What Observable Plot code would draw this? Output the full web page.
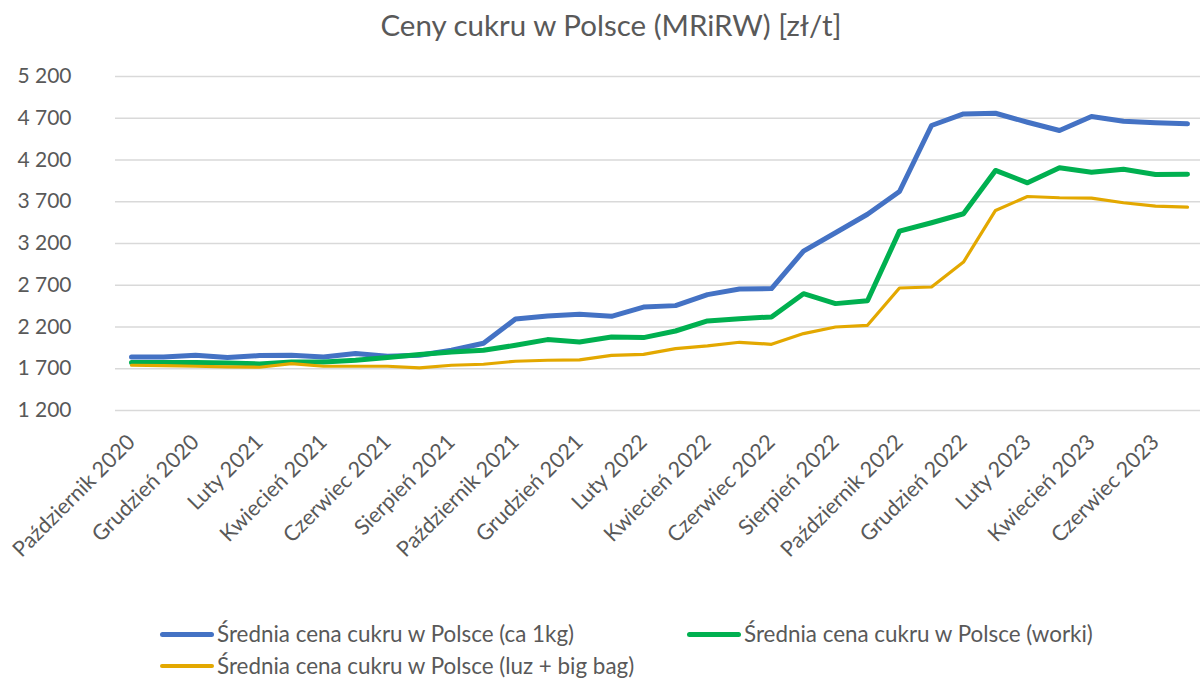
<!DOCTYPE html>
<html>
<head>
<meta charset="utf-8">
<script src="https://cdn.jsdelivr.net/npm/d3@7"></script>
<script src="https://cdn.jsdelivr.net/npm/@observablehq/plot@0.6"></script>
<style>
  html, body { margin: 0; padding: 0; background: #fff; }
  body { width: 1200px; height: 680px; position: relative; overflow: hidden; font-family: Lato, "Open Sans", sans-serif; color: #595959; }
  #title { position: absolute; left: 0; top: 8px; width: 1222px; text-align: center; font-size: 29.5px; line-height: 34px; }
  #chart { position: absolute; left: 0; top: 60px; }
  .leg { position: absolute; font-size: 22.4px; line-height: 26px; display: flex; align-items: center; white-space: nowrap; }
  .sw { display: inline-block; width: 54px; border-radius: 3px; margin-right: 3px; }
</style>
</head>
<body>
<div id="title">Ceny cukru w Polsce (MRiRW) [zł/t]</div>
<div id="chart"></div>
<div id="legend"></div>
<script>
const months = [
  "Październik 2020", "Listopad 2020", "Grudzień 2020", "Styczeń 2021", "Luty 2021", "Marzec 2021",
  "Kwiecień 2021", "Maj 2021", "Czerwiec 2021", "Lipiec 2021", "Sierpień 2021", "Wrzesień 2021",
  "Październik 2021", "Listopad 2021", "Grudzień 2021", "Styczeń 2022", "Luty 2022", "Marzec 2022",
  "Kwiecień 2022", "Maj 2022", "Czerwiec 2022", "Lipiec 2022", "Sierpień 2022", "Wrzesień 2022",
  "Październik 2022", "Listopad 2022", "Grudzień 2022", "Styczeń 2023", "Luty 2023", "Marzec 2023",
  "Kwiecień 2023", "Maj 2023", "Czerwiec 2023", "Lipiec 2023"
];
const seriesNames = [
  "Średnia cena cukru w Polsce (ca 1kg)",
  "Średnia cena cukru w Polsce (worki)",
  "Średnia cena cukru w Polsce (luz + big bag)"
];
const ca1kg = [1841, 1841, 1861, 1834, 1858, 1861, 1841, 1882, 1850, 1861, 1921, 2005,
  2295, 2331, 2352, 2328, 2439, 2456, 2588, 2655, 2660, 3109, 3329, 3550,
  3823, 4613, 4752, 4760, 4652, 4553, 4720, 4664, 4645, 4633];
const worki = [1774, 1774, 1774, 1770, 1757, 1781, 1781, 1802, 1834, 1870, 1901, 1921,
  1981, 2049, 2021, 2081, 2073, 2152, 2272, 2300, 2320, 2599, 2480, 2515,
  3348, 3449, 3556, 4075, 3927, 4107, 4054, 4090, 4027, 4030];
const luz = [1742, 1738, 1730, 1722, 1718, 1762, 1730, 1730, 1730, 1710, 1742, 1754,
  1790, 1802, 1806, 1861, 1873, 1941, 1973, 2017, 1993, 2121, 2200, 2220,
  2667, 2679, 2978, 3596, 3763, 3748, 3744, 3688, 3648, 3636];
const yTicks = [1200, 1700, 2200, 2700, 3200, 3700, 4200, 4700, 5200];
const xTickLabels = months.filter((d, i) => i % 2 === 0);

const colors = ["#4472C4", "#00B050", "#E3A800"];
const widths = [5, 5, 3.2];
const values = [ca1kg, worki, luz];
const tables = values.map((vals, s) => vals.map((v, i) => ({month: months[i], value: v, series: seriesNames[s]})));

const fmt = d => d3.format(",")(d).replace(/,/g, " ");

const chart = Plot.plot({
  width: 1200,
  height: 555,
  marginLeft: 115,
  marginRight: -3,
  marginTop: 16,
  marginBottom: 205,
  style: {fontFamily: "Lato, 'Open Sans', sans-serif", fontSize: "21px", color: "#595959", background: "white", overflow: "visible"},
  x: {type: "point", domain: months, padding: 0.5, label: null},
  y: {domain: [1200, 5200], label: null},
  marks: [
    Plot.ruleY(yTicks, {stroke: "#D9D9D9", strokeWidth: 1.5}),
    Plot.axisY({ticks: yTicks, tickSize: 0, tickPadding: 44, tickFormat: fmt, fill: "#595959", fontSize: 21}),
    Plot.axisX({ticks: xTickLabels, tickSize: 0, tickRotate: -45, tickPadding: 28, fill: "#595959", fontSize: 21.5}),
    ...tables.map((t, s) => Plot.line(t, {x: "month", y: "value", stroke: colors[s], strokeWidth: widths[s], strokeLinejoin: "round", strokeLinecap: "round"}))
  ]
});
document.getElementById("chart").appendChild(chart);

// legend
const legendPos = [[160, 621], [687, 621], [160, 653]];
const leg = document.getElementById("legend");
seriesNames.forEach((name, s) => {
  const d = document.createElement("div");
  d.className = "leg";
  d.style.left = legendPos[s][0] + "px";
  d.style.top = legendPos[s][1] + "px";
  const sw = document.createElement("span");
  sw.className = "sw";
  sw.style.height = widths[s] + "px";
  sw.style.background = colors[s];
  d.appendChild(sw);
  const t = document.createElement("span");
  t.textContent = name;
  d.appendChild(t);
  leg.appendChild(d);
});
</script>
</body>
</html>
